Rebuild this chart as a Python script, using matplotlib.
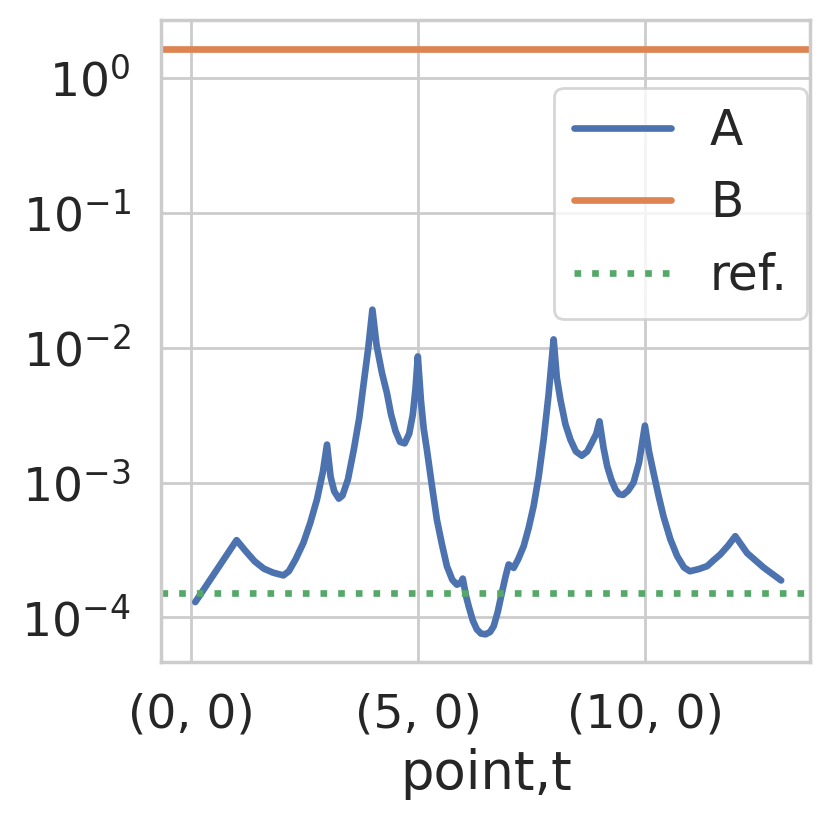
import numpy as np
import matplotlib
matplotlib.use("Agg")
import matplotlib.pyplot as plt
import seaborn as sns

# curve A (x = point position, y = value)
a_x = [0.09, 1.0, 1.2, 1.4, 1.6, 1.8, 2.03, 2.15, 2.3, 2.47, 2.62, 2.77, 2.9, 2.99,
       3.07, 3.15, 3.25, 3.33, 3.45, 3.58, 3.7, 3.8, 3.9, 3.99,
       4.08, 4.2, 4.31, 4.4, 4.5, 4.6, 4.7, 4.8, 4.88, 4.94, 4.99,
       5.06, 5.12, 5.19, 5.3, 5.41, 5.52, 5.63, 5.75, 5.85, 5.93, 5.98,
       6.05, 6.11, 6.2, 6.29, 6.38, 6.48, 6.58, 6.66, 6.75, 6.84, 6.92, 6.99,
       7.1, 7.2, 7.32, 7.43, 7.54, 7.65, 7.76, 7.87, 7.98,
       8.05, 8.13, 8.24, 8.35, 8.47, 8.6, 8.72, 8.82, 8.92, 8.99,
       9.08, 9.16, 9.25, 9.34, 9.42, 9.51, 9.62, 9.74, 9.86, 9.99,
       10.08, 10.18, 10.29, 10.4, 10.55, 10.7, 10.85, 10.98,
       11.17, 11.36, 11.5, 11.65, 11.82, 11.98, 12.24, 12.6, 12.99]
a_y = [1.30e-4, 3.74e-4, 3.1e-4, 2.6e-4, 2.3e-4, 2.15e-4, 2.05e-4, 2.2e-4, 2.7e-4, 3.57e-4, 5.0e-4, 7.5e-4, 1.2e-3, 1.91e-3,
       1.1e-3, 8.6e-4, 7.6e-4, 8.0e-4, 1.05e-3, 1.75e-3, 3.0e-3, 5.5e-3, 1.0e-2, 1.91e-2,
       1.05e-2, 6.5e-3, 4.6e-3, 3.2e-3, 2.4e-3, 2.0e-3, 1.95e-3, 2.3e-3, 3.2e-3, 5.0e-3, 8.6e-3,
       4.0e-3, 2.5e-3, 1.75e-3, 9.5e-4, 5.3e-4, 3.5e-4, 2.4e-4, 1.9e-4, 1.75e-4, 1.8e-4, 1.94e-4,
       1.45e-4, 1.21e-4, 9.5e-5, 8.15e-5, 7.6e-5, 7.5e-5, 7.8e-5, 8.6e-5, 1.1e-4, 1.52e-4, 2.0e-4, 2.47e-4,
       2.33e-4, 2.7e-4, 3.37e-4, 4.6e-4, 6.7e-4, 1.1e-3, 2.08e-3, 4.5e-3, 1.15e-2,
       6.0e-3, 4.1e-3, 2.7e-3, 2.08e-3, 1.7e-3, 1.58e-3, 1.7e-3, 1.97e-3, 2.3e-3, 2.84e-3,
       1.8e-3, 1.32e-3, 1.05e-3, 8.9e-4, 8.2e-4, 8.1e-4, 8.7e-4, 1.0e-3, 1.4e-3, 2.64e-3,
       1.7e-3, 1.18e-3, 8.0e-4, 5.6e-4, 3.8e-4, 2.85e-4, 2.35e-4, 2.2e-4,
       2.28e-4, 2.4e-4, 2.65e-4, 2.93e-4, 3.4e-4, 4.0e-4, 3.0e-4, 2.35e-4, 1.88e-4]
b_value = 1.64
ref_value = 1.53e-4
tick_pos = [0, 5, 10]
tick_labels = ["(0, 0)", "(5, 0)", "(10, 0)"]

sns.set_theme(style="whitegrid")
plt.rcParams['font.family'] = ['DejaVu Sans']

fig = plt.figure(figsize=(4.155, 4.115), dpi=200)
ax = fig.add_axes([0.194, 0.196, 0.781, 0.780])
pal = sns.color_palette()

ax.plot(a_x, a_y, color=pal[0], lw=2.4, label="A")
ax.axhline(b_value, color=pal[1], lw=2.4, label="B")
ax.axhline(ref_value, color=pal[2], lw=2.4, ls=":", label="ref.")

ax.set_yscale("log")
ax.set_xlim(-0.66, 13.63)
ax.set_ylim(4.7e-5, 2.69)
ax.set_xticks(tick_pos)
ax.set_xticklabels(tick_labels)
ax.minorticks_off()
ax.tick_params(labelsize=17, pad=5)
ax.set_xlabel("point,t", fontsize=19, labelpad=4)
ax.legend(loc="upper right", fontsize=17.5, bbox_to_anchor=(1.033, 0.932))

fig.savefig("out.png", dpi=200)
